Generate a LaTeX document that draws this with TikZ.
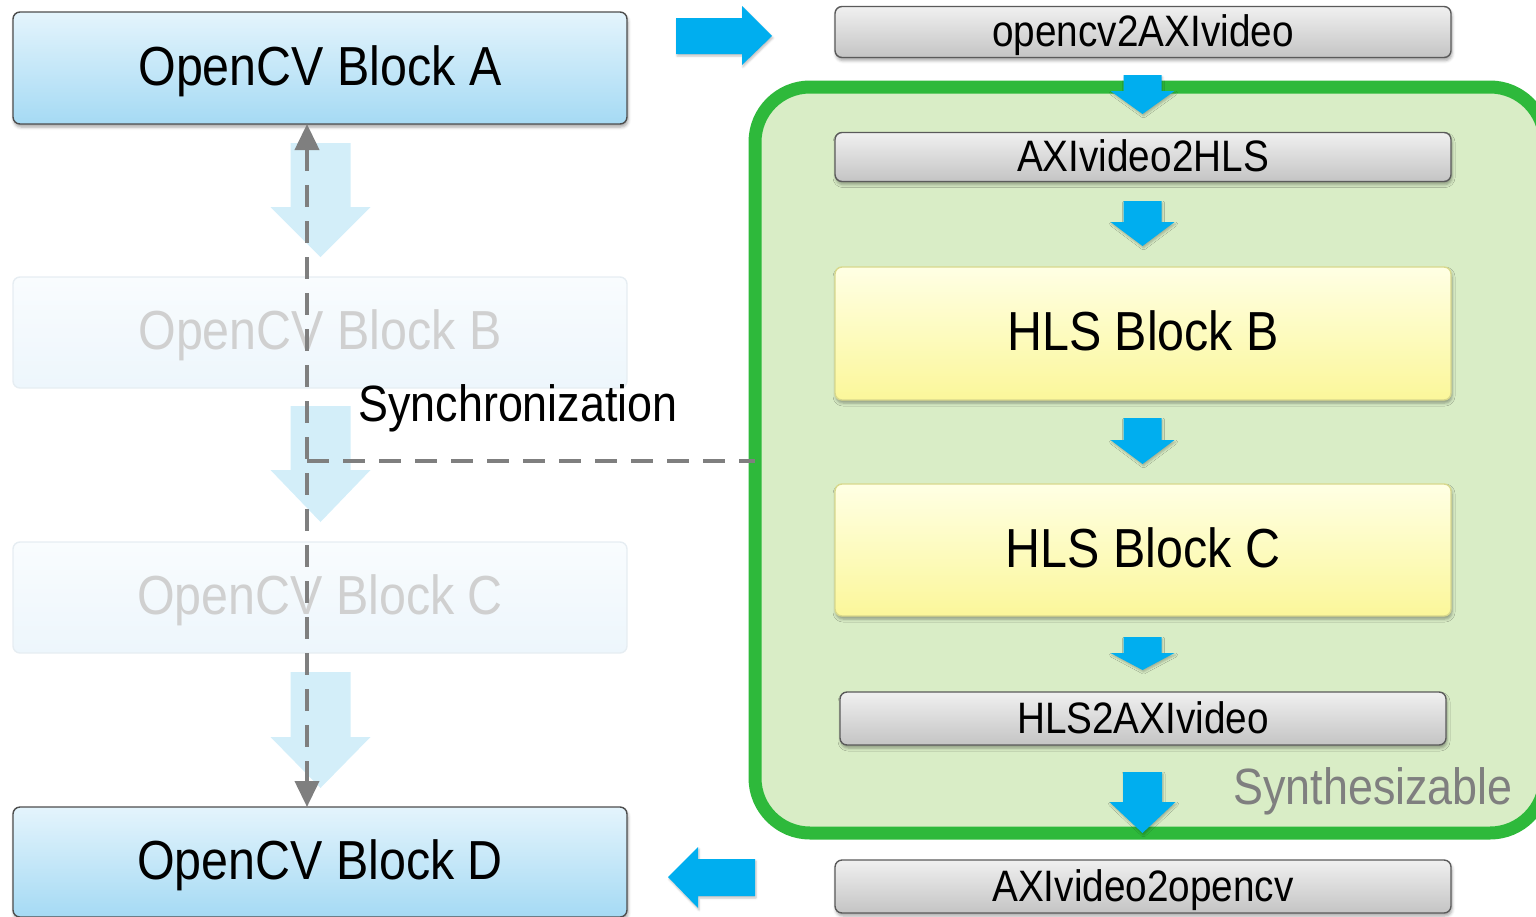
\documentclass[tikz,border=0pt]{standalone}
\usepackage{fontspec}
\setmainfont{Liberation Sans}
\newfontfamily\nsans[FakeStretch=0.88]{Liberation Sans}
\usetikzlibrary{arrows.meta,shadows.blur}
\definecolor{cvtop}{HTML}{E4F4FC}
\definecolor{cvbot}{HTML}{A5DAF4}
\definecolor{cvedge}{HTML}{4D4D4D}
\definecolor{fadetop}{HTML}{F9FCFE}
\definecolor{fadebot}{HTML}{EDF6FC}
\definecolor{fadeedge}{HTML}{E6EDF2}
\definecolor{fadetext}{HTML}{D0D0D0}
\definecolor{graytop}{HTML}{F0F0F0}
\definecolor{graybot}{HTML}{C4C4C4}
\definecolor{grayedge}{HTML}{5A5A5A}
\definecolor{yeltop}{HTML}{FFFFE4}
\definecolor{yelbot}{HTML}{FBF79A}
\definecolor{yeledge}{HTML}{D8D88C}
\definecolor{arrowblue}{HTML}{00AEEF}
\definecolor{fadearrow}{HTML}{D3EEF9}
\definecolor{synthgreen}{HTML}{2EB93B}
\definecolor{synthfill}{HTML}{D9EDC6}
\definecolor{dashgray}{HTML}{7F7F7F}
\newcommand\blkdown[7]{%
  \fill[#1] ({#2-#6},{#3}) -- ({#2+#6},{#3}) -- ({#2+#6},{#4}) -- ({#2+#7},{#4})
    -- ({#2},{#5}) -- ({#2-#7},{#4}) -- ({#2-#6},{#4}) -- cycle;}
\begin{document}
\begin{tikzpicture}[x=1pt,y=-1pt,
  boxshadow/.style={blur shadow={shadow xshift=1pt,shadow yshift=-3pt,shadow blur radius=3pt,shadow opacity=35}},
  basebox/.style={rounded corners=7pt, inner sep=0pt, outer sep=0pt, line width=1.4pt, text depth=0pt},
  bigtext/.style={font=\nsans\fontsize{55}{60}\selectfont, text height=34pt},
  smalltext/.style={font=\nsans\fontsize{44}{48}\selectfont, text height=29.5pt},
  cvbox/.style={basebox, bigtext, boxshadow, draw=cvedge, top color=cvtop, bottom color=cvbot,
    minimum width=614pt, minimum height=112pt, text=black},
  fadebox/.style={basebox, bigtext, draw=fadeedge, top color=fadetop, bottom color=fadebot,
    minimum width=614pt, minimum height=111pt, text=fadetext},
  graybox/.style={basebox, smalltext, boxshadow, draw=grayedge, top color=graytop, bottom color=graybot,
    minimum height=51pt, text=black},
  hlsbox/.style={basebox, bigtext, boxshadow, draw=yeledge, top color=yeltop, bottom color=yelbot,
    minimum width=616pt, minimum height=133pt, text=black},
  bluearrow/.style={arrowblue, blur shadow={shadow xshift=1pt,shadow yshift=-2pt,shadow blur radius=2pt,shadow opacity=25}},
  fadedarrow/.style={fadearrow},
  syncline/.style={draw=dashgray, line width=4pt, dash pattern=on 22pt off 14pt},
  label/.style={inner sep=0pt, font=\nsans\fontsize{51}{55}\selectfont}
]
\useasboundingbox (0,0) rectangle (1536,916);

% synthesizable region
\node[draw=synthgreen, fill=synthfill, line width=13pt, rounded corners=55pt,
      minimum width=790pt, minimum height=746pt, inner sep=0pt, outer sep=0pt]
      (synth) at (1150,460) {};
\node[label, text=dashgray, anchor=center] (synthlabel) at (1373,791) {Synthesizable};

% blue flow arrows on the right
\blkdown{bluearrow}{1142.5}{75}{91}{114}{19}{32}
\blkdown{bluearrow}{1142.5}{201}{222}{246}{19}{32}
\blkdown{bluearrow}{1142.5}{418}{440}{464}{19}{32}
\blkdown{bluearrow}{1142.5}{637}{653}{670}{19}{32}
\blkdown{bluearrow}{1142.5}{772}{802}{833}{19.5}{33}
\fill[bluearrow] (676,18) -- (742,18) -- (742,6) -- (772,36) -- (742,65) -- (742,54) -- (676,54) -- cycle;
\fill[bluearrow] (755,859) -- (698,859) -- (698,847) -- (668,877) -- (698,908) -- (698,896) -- (755,896) -- cycle;

% right column boxes
\node[graybox, minimum width=616pt] (g1) at (1143,32) {opencv2AXIvideo};
\node[graybox, minimum width=616pt, minimum height=49pt] (g2) at (1143,157) {AXIvideo2HLS};
\node[hlsbox] (hb) at (1143,333.5) {HLS Block B};
\node[hlsbox, minimum height=132pt] (hc) at (1143,550) {HLS Block C};
\node[graybox, minimum width=606pt, minimum height=53pt] (g3) at (1143,718.5) {HLS2AXIvideo};
\node[graybox, minimum width=616pt, minimum height=53pt] (g4) at (1143,886.5) {AXIvideo2opencv};

% faded arrows on the left
\blkdown{fadedarrow}{320.5}{143}{207}{257}{30}{50}
\blkdown{fadedarrow}{320.5}{406}{470}{522}{30}{50}
\blkdown{fadedarrow}{320.5}{672}{737}{788}{30}{50}

% left column boxes
\node[cvbox] (A) at (320,68) {OpenCV Block A};
\node[fadebox] (B) at (320,332.5) {OpenCV Block B};
\node[fadebox] (C) at (320,597.5) {OpenCV Block C};
\node[cvbox, minimum height=110pt] (D) at (320,862) {OpenCV Block D};

% synchronization
\draw[syncline, {Triangle[length=26pt,width=24pt]}-{Triangle[length=26pt,width=24pt]}]
  ([xshift=-13pt]A.south) -- ([xshift=-13pt]D.north);
\coordinate (sync) at (307,461);
\draw[syncline] (sync) -- (sync -| synth.west);
\node[label, text=black] (synclabel) at (518,408) {Synchronization};
\end{tikzpicture}
\end{document}
